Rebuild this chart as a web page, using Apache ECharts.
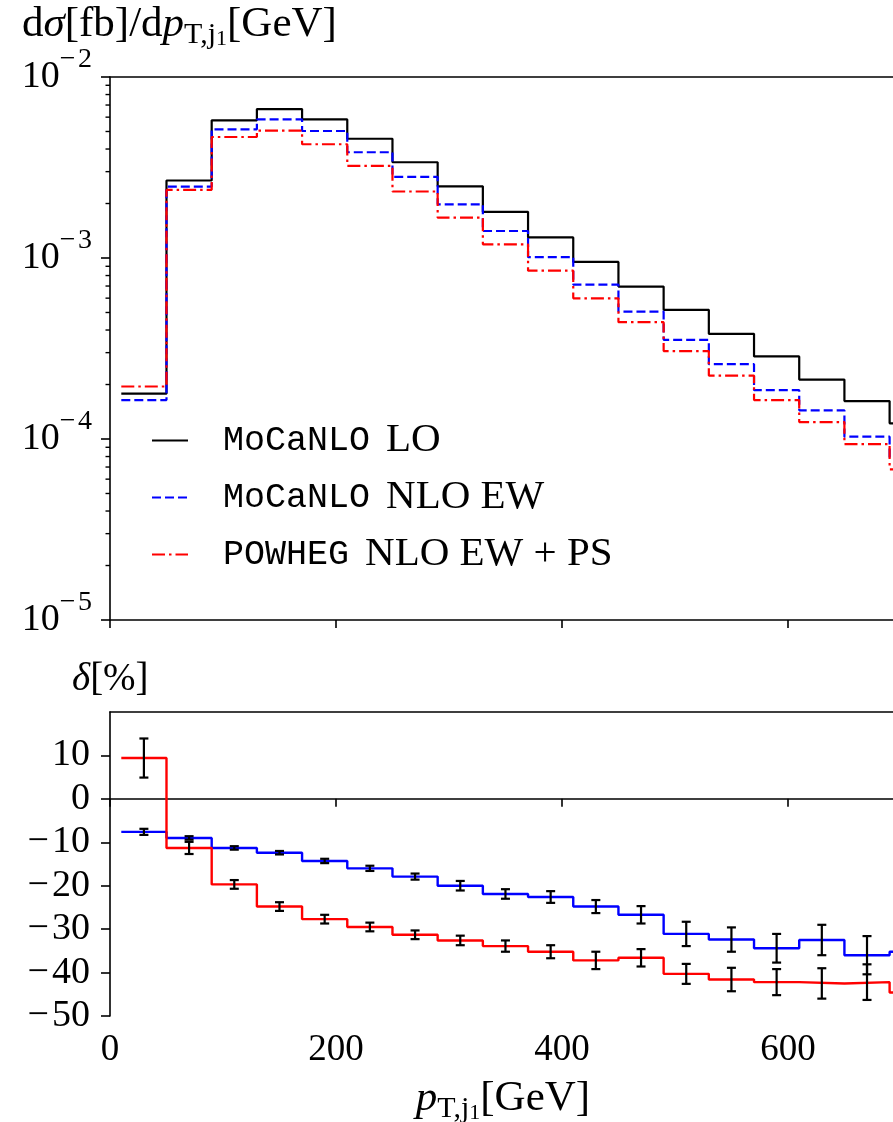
<!DOCTYPE html>
<html>
<head>
<meta charset="utf-8">
<title>pT j1</title>
<script src="https://cdn.jsdelivr.net/npm/echarts@6/dist/echarts.min.js"></script>
<style>
html, body { margin: 0; padding: 0; background: #fff; }
#main { width: 893px; height: 1122px; }
</style>
</head>
<body>
<div id="main"></div>
<script>
// bin edges of the pT,j1 histogram [GeV]
var binEdges = [10, 50, 90, 130, 170, 210, 250, 290, 330, 370, 410, 450, 490, 530, 570, 610, 650, 690, 730];

// dsigma/dpT [fb/GeV]
var sigmaLO = [1.78e-4, 2.68e-3, 5.76e-3, 6.65e-3, 5.83e-3, 4.56e-3, 3.38e-3, 2.49e-3, 1.80e-3,
	1.30e-3, 9.51e-4, 6.95e-4, 5.17e-4, 3.81e-4, 2.86e-4, 2.13e-4, 1.62e-4, 1.22e-4];
var sigmaNLOEW = [1.64e-4, 2.48e-3, 5.14e-3, 5.83e-3, 5.03e-3, 3.84e-3, 2.81e-3, 1.98e-3, 1.41e-3,
	1.01e-3, 7.13e-4, 5.06e-4, 3.53e-4, 2.59e-4, 1.86e-4, 1.44e-4, 1.03e-4, 7.9e-5];
var sigmaPS = [1.95e-4, 2.38e-3, 4.66e-3, 5.05e-3, 4.25e-3, 3.23e-3, 2.33e-3, 1.67e-3, 1.19e-3,
	8.51e-4, 5.99e-4, 4.42e-4, 3.06e-4, 2.24e-4, 1.64e-4, 1.24e-4, 9.36e-5, 6.8e-5];

// relative corrections delta [%] and their errors
var deltaEW = [-7.6, -9.0, -11.3, -12.4, -14.3, -16.0, -17.9, -20.0, -21.9, -22.6, -24.8, -26.7,
	-31.1, -32.4, -34.4, -32.5, -36.0, -35.2];
var deltaPS = [9.4, -11.3, -19.7, -24.8, -27.7, -29.5, -31.3, -32.6, -33.9, -35.2, -37.2, -36.6,
	-40.3, -41.6, -42.2, -42.5, -42.2, -44.6];
var errEW = [0.7, 0.4, 0.4, 0.4, 0.5, 0.6, 0.7, 1.1, 1.1, 1.35, 1.5, 2.0, 2.8, 2.8, 3.3, 3.5, 4.4];
var errPS = [4.5, 1.4, 1.0, 1.0, 1.0, 1.0, 1.0, 1.1, 1.3, 1.5, 2.0, 2.0, 2.3, 2.7, 3.0, 3.5, 4.1];

// tick labels
var xTicks = [0, 200, 400, 600];
var deltaTicks = [-50, -40, -30, -20, -10, 0, 10];
var minorMantissa = [2, 3, 4, 5, 6, 7, 8, 9];
var minorDecades = [1e-5, 1e-4, 1e-3];

var legendNames = ['MoCaNLO LO', 'MoCaNLO NLO EW', 'POWHEG NLO EW + PS'];

var SERIF = 'Liberation Serif';
var MONO = 'Liberation Mono';
var MINUS = '\u2212\u200a';
var X_MAX = 693;

var chart = echarts.init(document.getElementById('main'));

// histogram -> step polyline points
function stepData(vals) {
	var out = [];
	for (var i = 0; i < vals.length; i++) {
		out.push([binEdges[i], vals[i]]);
	}
	out.push([binEdges[vals.length], vals[vals.length - 1]]);
	return out;
}

function errData(vals, errs) {
	var out = [];
	for (var i = 0; i < errs.length; i++) {
		out.push([(binEdges[i] + binEdges[i + 1]) / 2, vals[i], errs[i]]);
	}
	return out;
}

var minorData = [];
minorDecades.forEach(function(d) {
	minorMantissa.forEach(function(m) {
		minorData.push([0, m * d]);
	});
});

function renderErr(params, api) {
	var x = api.value(0), y = api.value(1), e = api.value(2);
	var p1 = api.coord([x, y + e]);
	var p2 = api.coord([x, y - e]);
	var w = 4.5;
	var st = { stroke: '#000', lineWidth: 2.2 };
	return {
		type: 'group',
		children: [
			{ type: 'line', shape: { x1: p1[0], y1: p1[1], x2: p2[0], y2: p2[1] }, style: st },
			{ type: 'line', shape: { x1: p1[0] - w, y1: p1[1], x2: p1[0] + w, y2: p1[1] }, style: st },
			{ type: 'line', shape: { x1: p2[0] - w, y1: p2[1], x2: p2[0] + w, y2: p2[1] }, style: st }
		]
	};
}

function renderMinor(params, api) {
	var p = api.coord([api.value(0), api.value(1)]);
	return {
		type: 'line',
		shape: { x1: p[0] - 4.5, y1: p[1], x2: p[0], y2: p[1] },
		style: { stroke: '#000', lineWidth: 1.4 }
	};
}

var axisLine = { show: true, lineStyle: { color: '#000', width: 1.6 } };
var tickStyle = { color: '#000', width: 1.6 };
var TICK_FONT = 37;

function richText(size) {
	return {
		n: { fontFamily: SERIF, fontSize: size, lineHeight: size + 8, color: '#000' },
		i: { fontFamily: SERIF, fontStyle: 'italic', fontSize: size, lineHeight: size + 8, color: '#000' },
		sub: { fontFamily: SERIF, fontSize: Math.round(size * 0.7), verticalAlign: 'bottom', color: '#000' },
		subsub: { fontFamily: SERIF, fontSize: Math.round(size * 0.52), verticalAlign: 'bottom', color: '#000' }
	};
}

var option = {
	animation: false,
	backgroundColor: '#fff',
	grid: [
		{ left: 110, top: 77, right: 0, height: 543 },
		{ left: 110, top: 712, right: 0, height: 304 }
	],
	legend: {
		data: legendNames,
		orient: 'vertical',
		left: 146,
		top: 415,
		itemGap: 16,
		itemWidth: 36,
		itemHeight: 14,
		itemStyle: { color: 'rgba(0,0,0,0)', borderColor: 'rgba(0,0,0,0)', borderWidth: 0 },
		formatter: function(name) {
			var parts = name.split(' ');
			return '{tt|' + parts[0] + '}{rm|' + parts.slice(1).join(' ') + '}';
		},
		textStyle: {
			rich: {
				tt: { fontFamily: MONO, fontSize: 35, lineHeight: 44, color: '#000', padding: [0, 0, 0, 30] },
				rm: { fontFamily: SERIF, fontSize: 41, lineHeight: 44, color: '#000', padding: [0, 0, 0, 16] }
			}
		}
	},
	xAxis: [
		{
			type: 'value', gridIndex: 0, min: 0, max: X_MAX, position: 'bottom',
			axisLine: axisLine,
			axisTick: { show: true, inside: false, length: 8, lineStyle: tickStyle, customValues: xTicks },
			axisLabel: { show: false },
			splitLine: { show: false }
		},
		{
			type: 'value', gridIndex: 0, min: 0, max: X_MAX, position: 'top',
			axisLine: axisLine, axisTick: { show: false }, axisLabel: { show: false }, splitLine: { show: false }
		},
		{
			type: 'value', gridIndex: 1, min: 0, max: X_MAX, position: 'bottom',
			axisLine: axisLine,
			axisTick: { show: true, inside: false, length: 8, lineStyle: tickStyle, customValues: xTicks },
			axisLabel: {
				customValues: xTicks, margin: 16, color: '#000',
				fontFamily: SERIF, fontSize: TICK_FONT
			},
			splitLine: { show: false }
		},
		{
			type: 'value', gridIndex: 1, min: 0, max: X_MAX, position: 'top',
			axisLine: axisLine, axisTick: { show: false }, axisLabel: { show: false }, splitLine: { show: false }
		}
	],
	yAxis: [
		{
			type: 'log', gridIndex: 0, logBase: 10, min: 1e-5, max: 1e-2, splitNumber: 3,
			axisLine: axisLine,
			axisTick: { show: true, inside: false, length: 9, lineStyle: tickStyle },
			axisLabel: {
				margin: 18,
				formatter: function(v) {
					var e = Math.round(Math.log(v) / Math.LN10);
					return '{b|10}{s|' + MINUS + (-e) + '}';
				},
				rich: {
					b: { fontFamily: SERIF, fontSize: 38, lineHeight: 62, color: '#000' },
					s: { fontFamily: SERIF, fontSize: 28, verticalAlign: 'top', color: '#000' }
				}
			},
			splitLine: { show: false }
		},
		{
			type: 'value', gridIndex: 1, min: -50, max: 20, interval: 10,
			axisLine: axisLine,
			axisTick: { show: true, inside: false, length: 9, lineStyle: tickStyle, customValues: deltaTicks },
			axisLabel: {
				customValues: deltaTicks, margin: 20, color: '#000',
				fontFamily: SERIF, fontSize: 38,
				formatter: function(v) {
					return v < 0 ? MINUS + (-v) : String(v);
				}
			},
			splitLine: { show: false }
		}
	],
	graphic: [
		{
			type: 'text', left: 22, top: 3,
			style: {
				text: '{n|d}{i|\u03c3}{n|[fb]/d}{i|p}{sub|T,j}{subsub|1}{n|[GeV]}',
				rich: richText(43)
			}
		},
		{
			type: 'text', left: 72, top: 660,
			style: {
				text: '{i|\u03b4}{n|[%]}',
				rich: richText(39)
			}
		},
		{
			type: 'text', x: 503, y: 1099,
			style: {
				text: '{i|p}{sub|T,j}{subsub|1}{n|[GeV]}',
				rich: richText(43),
				align: 'center',
				verticalAlign: 'middle'
			}
		}
	],
	series: [
		{
			name: legendNames[0], type: 'line', step: 'end', xAxisIndex: 0, yAxisIndex: 0,
			symbol: 'none', data: stepData(sigmaLO), color: '#000',
			lineStyle: { color: '#000', width: 2.2 }
		},
		{
			name: legendNames[1], type: 'line', step: 'end', xAxisIndex: 0, yAxisIndex: 0,
			symbol: 'none', data: stepData(sigmaNLOEW), color: '#0000ff',
			lineStyle: { color: '#0000ff', width: 2.2, type: [9, 4] }
		},
		{
			name: legendNames[2], type: 'line', step: 'end', xAxisIndex: 0, yAxisIndex: 0,
			symbol: 'none', data: stepData(sigmaPS), color: '#ff0000',
			lineStyle: { color: '#ff0000', width: 2.2, type: [13, 4, 2.5, 4] }
		},
		{
			type: 'custom', xAxisIndex: 0, yAxisIndex: 0, clip: false, silent: true,
			renderItem: renderMinor, data: minorData
		},
		{
			type: 'line', step: 'end', xAxisIndex: 2, yAxisIndex: 1,
			symbol: 'none', data: stepData(deltaEW),
			lineStyle: { color: '#0000ff', width: 2.4 }
		},
		{
			type: 'line', step: 'end', xAxisIndex: 2, yAxisIndex: 1,
			symbol: 'none', data: stepData(deltaPS),
			lineStyle: { color: '#ff0000', width: 2.4 }
		},
		{
			type: 'custom', xAxisIndex: 2, yAxisIndex: 1, clip: false, z: 5,
			renderItem: renderErr, data: errData(deltaEW, errEW)
		},
		{
			type: 'custom', xAxisIndex: 2, yAxisIndex: 1, clip: false, z: 5,
			renderItem: renderErr, data: errData(deltaPS, errPS)
		}
	]
};

chart.setOption(option);
</script>
</body>
</html>
